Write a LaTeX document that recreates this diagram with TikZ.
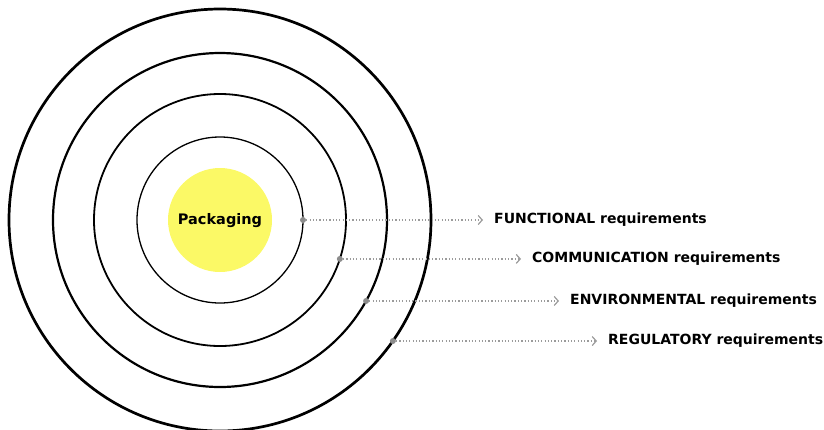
\documentclass[tikz,border=0pt]{standalone}
\usepackage{fontspec}
\setmainfont{DejaVu Sans}
\usetikzlibrary{arrows.meta}
\definecolor{hlyellow}{RGB}{251,249,102}
\definecolor{lead}{RGB}{155,155,155}
\definecolor{leaddot}{RGB}{140,140,140}
\tikzset{
  ring/.style={circle, draw=black, inner sep=0pt, outer sep=0pt, fill=none},
  pin/.style={circle, fill=leaddot, inner sep=0pt, minimum size=6pt},
  lead/.style={draw=lead, line width=1.3pt, dash pattern=on 1.2pt off 2.1pt,
    -{Straight Barb[length=4pt, width=9pt, line width=1.2pt]}},
  lbl/.style={anchor=west, inner sep=0pt, font=\fontsize{14}{16}\selectfont\bfseries},
}
\begin{document}
\begin{tikzpicture}[x=1pt, y=-1pt]
\useasboundingbox (0,0) rectangle (824,429);
\node[circle, fill=hlyellow, inner sep=0pt, minimum size=104pt] (core) at (220,220) {};
\node[font=\fontsize{14.5}{16}\selectfont\bfseries] (corelbl) at (220,221) {Packaging};
\node[ring, line width=1.3pt, minimum size=166pt] (c1) at (220,220) {};
\node[ring, line width=1.8pt, minimum size=252pt] (c2) at (220,220) {};
\node[ring, line width=2.2pt, minimum size=334pt] (c3) at (220,220) {};
\node[ring, line width=2.7pt, minimum size=422pt] (c4) at (220,220) {};
\node[pin] (p1) at (c1.0) {};
\node[pin] (p2) at (c2.-18.84) {};
\node[pin] (p3) at (c3.-29.29) {};
\node[pin] (p4) at (c4.-35.42) {};
\node[lbl] (t1) at (p1 -| 494,0) {FUNCTIONAL requirements};
\node[lbl] (t2) at (p2 -| 532,0) {COMMUNICATION requirements};
\node[lbl] (t3) at (p3 -| 570,0) {ENVIRONMENTAL requirements};
\node[lbl] (t4) at (p4 -| 608,0) {REGULATORY requirements};
\coordinate (e1) at ([xshift=-11pt]t1.west);
\coordinate (e2) at ([xshift=-11pt]t2.west);
\coordinate (e3) at ([xshift=-11pt]t3.west);
\coordinate (e4) at ([xshift=-11pt]t4.west);
\draw[lead] (p1) -- (e1);
\draw[lead] (p2) -- (e2);
\draw[lead] (p3) -- (e3);
\draw[lead] (p4) -- (e4);
\end{tikzpicture}
\end{document}
